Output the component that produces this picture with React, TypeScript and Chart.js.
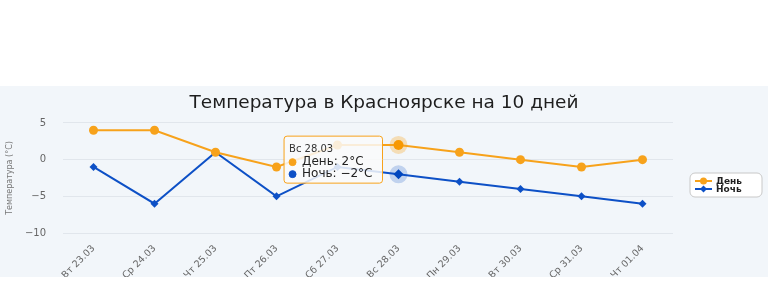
import React, { useEffect, useRef } from "react";
import { Chart, registerables } from "chart.js";

Chart.register(...registerables);

const categories = ["Вт 23.03", "Ср 24.03", "Чт 25.03", "Пт 26.03", "Сб 27.03", "Вс 28.03", "Пн 29.03", "Вт 30.03", "Ср 31.03", "Чт 01.04"];
const dayTemps = [4, 4, 1, -1, 2, 2, 1, 0, -1, 0];
const nightTemps = [-1, -6, 1, -5, -1, -2, -3, -4, -5, -6];
const yTicks = [5, 0, -5, -10];
const seriesNames = ["День", "Ночь"];
const chartTitle = "Температура в Красноярске на 10 дней";
const yTitle = "Температура (°C)";
const activeIndex = 5;

const DAY = "#f7a21b";
const NIGHT = "#0d50c6";
const FONT = "DejaVu Sans";

const fmt = (v: number) => (v < 0 ? "\u2212" + Math.abs(v) : String(v));

const haloPlugin = {
  id: "halo",
  beforeDatasetsDraw(chart: any) {
    const ctx = chart.ctx;
    const colors = ["rgba(247,162,27,0.3)", "rgba(13,80,198,0.22)"];
    chart.getActiveElements().forEach((a: any) => {
      ctx.save();
      ctx.beginPath();
      ctx.arc(a.element.x, a.element.y, 9, 0, Math.PI * 2);
      ctx.fillStyle = colors[a.datasetIndex];
      ctx.fill();
      ctx.restore();
    });
  },
};

const legendPlugin = {
  id: "customLegend",
  afterDatasetsDraw(chart: any) {
    const ctx = chart.ctx;
    const x = 690, y = 87, w = 72, h = 24, r = 5;
    ctx.save();
    ctx.beginPath();
    ctx.moveTo(x + r, y);
    ctx.lineTo(x + w - r, y);
    ctx.arcTo(x + w, y, x + w, y + r, r);
    ctx.lineTo(x + w, y + h - r);
    ctx.arcTo(x + w, y + h, x + w - r, y + h, r);
    ctx.lineTo(x + r, y + h);
    ctx.arcTo(x, y + h, x, y + h - r, r);
    ctx.lineTo(x, y + r);
    ctx.arcTo(x, y, x + r, y, r);
    ctx.closePath();
    ctx.fillStyle = "#ffffff";
    ctx.fill();
    ctx.strokeStyle = "#c8c8c8";
    ctx.lineWidth = 1;
    ctx.stroke();
    const colors = [DAY, NIGHT];
    seriesNames.forEach((name, i) => {
      const cy = y + 8 + i * 8;
      ctx.strokeStyle = colors[i];
      ctx.lineWidth = 2;
      ctx.beginPath();
      ctx.moveTo(x + 5, cy);
      ctx.lineTo(x + 22, cy);
      ctx.stroke();
      ctx.fillStyle = colors[i];
      ctx.beginPath();
      if (i === 0) {
        ctx.arc(x + 13.5, cy, 3.5, 0, Math.PI * 2);
      } else {
        ctx.moveTo(x + 13.5, cy - 3.5);
        ctx.lineTo(x + 17, cy);
        ctx.lineTo(x + 13.5, cy + 3.5);
        ctx.lineTo(x + 10, cy);
        ctx.closePath();
      }
      ctx.fill();
      ctx.fillStyle = "#222";
      ctx.font = `bold 9px ${FONT}`;
      ctx.textBaseline = "middle";
      ctx.textAlign = "left";
      ctx.fillText(name, x + 26, cy + 0.5);
    });
    ctx.restore();
  },
};

export default function App() {
  const ref = useRef<HTMLCanvasElement | null>(null);

  useEffect(() => {
    if (!ref.current) return;
    Chart.defaults.font.family = FONT;
    const chart = new Chart(ref.current, {
      type: "line",
      data: {
        labels: categories,
        datasets: [
          {
            label: seriesNames[0],
            data: dayTemps,
            borderColor: DAY,
            backgroundColor: DAY,
            borderWidth: 2,
            pointStyle: "circle",
            pointRadius: 4.5,
            pointHoverRadius: 5,
            pointBorderWidth: 0,
            pointHoverBorderWidth: 0,
            tension: 0,
          },
          {
            label: seriesNames[1],
            data: nightTemps,
            borderColor: NIGHT,
            backgroundColor: NIGHT,
            borderWidth: 2,
            pointStyle: "rectRot",
            pointRadius: 4,
            pointHoverRadius: 5,
            pointBorderWidth: 0,
            pointHoverBorderWidth: 0,
            tension: 0,
          },
        ],
      },
      options: {
        responsive: false,
        animation: false,
        events: [],
        interaction: { mode: "index", intersect: false },
        layout: { padding: 0 },
        scales: {
          x: {
            offset: true,
            grid: { display: false },
            border: { display: false },
            ticks: {
              autoSkip: false,
              maxRotation: 45,
              minRotation: 45,
              color: "#666",
              padding: 2,
              font: { size: 9.5 },
            },
            afterFit: (s: any) => {
              s.height = 44;
            },
          },
          y: {
            min: Math.min(...yTicks),
            max: Math.max(...yTicks),
            afterBuildTicks: (s: any) => {
              s.ticks = yTicks.map((v) => ({ value: v }));
            },
            grid: { color: "#e1e6ec", drawTicks: false, lineWidth: 1 },
            border: { display: false },
            ticks: {
              color: "#666",
              padding: 17,
              font: { size: 10 },
              callback: (v: any) => fmt(Number(v)),
            },
            title: {
              display: true,
              text: yTitle,
              color: "#777",
              font: { size: 8 },
              padding: { top: 5, bottom: 0 },
            },
            afterFit: (s: any) => {
              s.width = 63;
            },
          },
          pad: {
            type: "linear",
            position: "right",
            display: true,
            grid: { display: false },
            border: { display: false },
            ticks: { display: false },
            afterFit: (s: any) => {
              s.width = 95;
            },
          },
        },
        plugins: {
          legend: { display: false },
          title: {
            display: true,
            text: chartTitle,
            color: "#1e1e1e",
            font: { size: 18.5, weight: "normal", lineHeight: 1.1 },
            padding: { top: 7, bottom: 9.6 },
          },
          tooltip: {
            enabled: true,
            position: "average",
            xAlign: "right",
            yAlign: "center",
            caretSize: 0,
            caretPadding: 16,
            backgroundColor: "rgba(250,250,250,0.85)",
            borderColor: DAY,
            borderWidth: 1,
            cornerRadius: 3,
            titleColor: "#333",
            bodyColor: "#222",
            titleFont: { size: 10, weight: "normal", lineHeight: 1 },
            bodyFont: { size: 12, weight: "normal", lineHeight: 1 },
            titleMarginBottom: 2,
            bodySpacing: 0,
            padding: { top: 8, bottom: 3, left: 5, right: 10 },
            displayColors: true,
            usePointStyle: true,
            boxWidth: 7,
            boxHeight: 7,
            boxPadding: 4,
            callbacks: {
              title: (items: any) => items[0].label,
              label: (c: any) => `${c.dataset.label}: ${fmt(c.parsed.y)}°C`,
              labelPointStyle: () => ({ pointStyle: "circle", rotation: 0 }),
              labelColor: (c: any) => ({
                borderColor: c.dataset.borderColor,
                backgroundColor: c.dataset.borderColor,
                borderWidth: 0,
              }),
            },
          },
        },
      },
      plugins: [haloPlugin, legendPlugin],
    } as any);

    const active = [
      { datasetIndex: 0, index: activeIndex },
      { datasetIndex: 1, index: activeIndex },
    ];
    chart.setActiveElements(active);
    chart.tooltip?.setActiveElements(active, { x: 0, y: 0 });
    chart.update("none");

    return () => chart.destroy();
  }, []);

  return (
    <div style={{ position: "fixed", left: 0, top: 0, width: 768, height: 300, background: "#ffffff" }}>
      <div style={{ position: "absolute", left: 0, top: 86, width: 768, height: 191, background: "#f2f6fa" }}>
        <canvas ref={ref} width={768} height={191} style={{ display: "block" }} />
      </div>
    </div>
  );
}
